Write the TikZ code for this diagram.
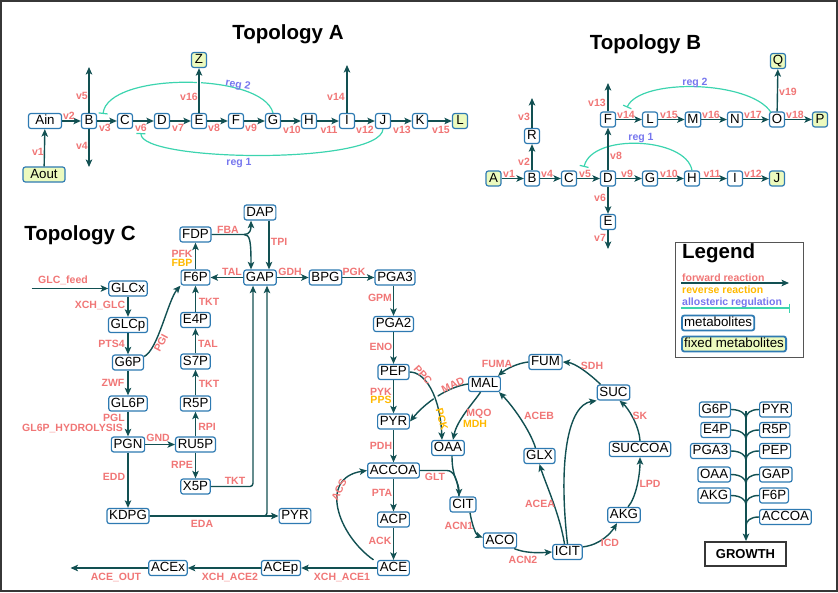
\documentclass[tikz,border=0pt]{standalone}
\usepackage{fontspec}
\setmainfont{Liberation Sans}
\usetikzlibrary{arrows.meta,calc}
\definecolor{ln}{RGB}{18,80,82}
\definecolor{nb}{RGB}{46,122,178}
\definecolor{fx}{RGB}{236,250,190}
\definecolor{rl}{RGB}{240,118,118}
\definecolor{ol}{RGB}{255,185,0}
\definecolor{pl}{RGB}{118,118,238}
\definecolor{rg}{RGB}{60,212,175}
\definecolor{fr}{RGB}{55,55,55}
\begin{document}
\begin{tikzpicture}[x=1pt,y=-1pt,
  met/.style={draw=nb,line width=1.2pt,rounded corners=2.5pt,fill=white,
    font=\fontsize{13.3}{14}\selectfont,inner xsep=2.2pt,inner ysep=1.3pt,
    text height=9.8pt,text depth=2.7pt,minimum width=15pt},
  fixm/.style={met,fill=fx},
  rx/.style={draw=ln,line width=1.4pt,-{Stealth[length=7.5pt,width=6.5pt,inset=1.8pt]}},
  rxn/.style={draw=ln,line width=1.4pt},
  reg/.style={draw=rg,line width=1.2pt,-{Bar[width=9pt]}},
  wgap/.style={draw=white,line width=4.5pt},
  lb/.style={text=rl,font=\bfseries\fontsize{10.5}{11}\selectfont,inner sep=0pt},
  lo/.style={lb,text=ol},
  lp/.style={lb,text=pl},
  ttl/.style={font=\bfseries\fontsize{20.5}{22}\selectfont,inner sep=0pt}
]
\useasboundingbox (0,0) rectangle (838,592);
\draw[fr,line width=2pt] (1,1) rectangle (837,591);

% ================= Topology A
\node[ttl] (tA) at (288,34.5) {Topology A};
\node[met,minimum width=33pt] (Ain) at (45,121) {Ain};
\node[fixm,minimum width=42pt] (Aout) at (44,174.5) {Aout};
\foreach \n/\x/\t in {aB/89/B,aC/125/C,aD/162/D,aE/199/E,aF/236/F,aG/273/G,aH/309/H,aI/347/I,aJ/383/J,aK/420/K}
  \node[met] (\n) at (\x,121) {\t};
\node[fixm] (aL) at (460,121) {L};
\node[fixm] (aZ) at (199,60) {Z};
\coordinate (aBu) at (89,67);
\coordinate (aBd) at (89,167);
\coordinate (aIu) at (347,65);

\draw[reg] (aG.north) .. controls (262,72) and (108,72) .. (103,114);
\draw[reg] (aJ.south) .. controls (380,165) and (140,162) .. (141,133);
\draw[wgap,shorten <=9pt,shorten >=3pt] (aE) -- (aZ);
\draw[rx] (aE) -- (aZ);
\draw[rx] (Aout) -- (Ain);
\foreach \s/\t in {Ain/aB,aB/aC,aC/aD,aD/aE,aE/aF,aF/aG,aG/aH,aH/aI,aI/aJ,aJ/aK,aK/aL}
  \draw[rx] (\s) -- (\t);
\draw[rx] (aB) -- (aBu);
\draw[rx] (aB) -- (aBd);
\draw[rx] (aI) -- (aIu);

\foreach \n/\x/\y/\t in {la1/38/152/v1,la2/69/116/v2,la3/105/128/v3,la4/82/146/v4,la5/82/96/v5,
  la6/141/128/v6,la7/178/128/v7,la8/214/128/v8,la9/251/128/v9,la10/292/130/v10,la11/329/130/v11,
  la12/365/130/v12,la13/402/130/v13,la15/441/130/v15,la14/336/97/v14,la16/189/97/v16}
  \node[lb] (\n) at (\x,\y) {\t};
\node[lp,rotate=-10] (lar2) at (238,85) {reg 2};
\node[lp] (lar1) at (239,163) {reg 1};

% ================= Topology B
\node[ttl] (tB) at (645.5,44) {Topology B};
\node[fixm] (bA) at (493.5,178.5) {A};
\foreach \n/\x/\t in {bB/532/B,bC/569/C,bD/608/D,bG/650/G,bH/692/H,bI/735/I}
  \node[met] (\n) at (\x,178.5) {\t};
\node[fixm] (bJ) at (777,178.5) {J};
\node[met] (bR) at (532,136) {R};
\node[met] (bE) at (608,222) {E};
\foreach \n/\x/\t in {bF/608/F,bL/650/L,bM/693/M,bN/735/N,bO/777/O}
  \node[met] (\n) at (\x,119.5) {\t};
\node[fixm] (bP) at (820,119.5) {P};
\node[fixm] (bQ) at (778,61) {Q};
\coordinate (bRu) at (532,98);
\coordinate (bFu) at (608,83);
\coordinate (bEd) at (608,249);

\draw[reg] (bH.north) .. controls (686,137) and (592,133) .. (584,167);
\draw[reg] ([xshift=-6pt,yshift=-1pt]bO.north) .. controls (750,80) and (640,78) .. (627,107.5);
\foreach \s/\t in {bA/bB,bB/bC,bC/bD,bD/bG,bG/bH,bH/bI,bI/bJ,bB/bR,bD/bE,bD/bF,bF/bL,bL/bM,bM/bN,bN/bO,bO/bP,bO/bQ}
  \draw[rx] (\s) -- (\t);
\draw[rx] (bR) -- (bRu);
\draw[rx] (bF) -- (bFu);
\draw[rx] (bE) -- (bEd);

\foreach \n/\x/\y/\t in {lb1/509/174/v1,lb2/524/162/v2,lb3/524/117/v3,lb4/547/174/v4,lb5/585/174/v5,
  lb6/600/198/v6,lb7/600/238/v7,lb8/616/156/v8,lb9/627/174/v9,lb10/669/174/v10,lb11/712/174/v11,
  lb12/753/174/v12,lb13/597/103/v13,lb14/626/115/v14,lb15/669/115/v15,lb16/711/115/v16,
  lb17/753/115/v17,lb18/795/115/v18,lb19/788/92/v19}
  \node[lb] (\n) at (\x,\y) {\t};
\node[lp] (lbr2) at (695,83) {reg 2};
\node[lp] (lbr1) at (641,138) {reg 1};

% ================= Topology C
\node[ttl] (tC) at (80,235) {Topology C};
\node[met] (GLCx) at (128,288.5) {GLCx};
\node[met] (GLCp) at (128,325) {GLCp};
\node[met] (G6P) at (128,362.5) {G6P};
\node[met] (GL6P) at (128,403.5) {GL6P};
\node[met] (PGN) at (128,444.5) {PGN};
\node[met] (KDPG) at (128,516) {KDPG};
\node[met] (RU5P) at (195.5,444.5) {RU5P};
\node[met] (X5P) at (195.5,486.5) {X5P};
\node[met] (R5P) at (195.5,403.5) {R5P};
\node[met] (S7P) at (195.5,361.5) {S7P};
\node[met] (E4P) at (195.5,320) {E4P};
\node[met] (F6P) at (195.5,277.5) {F6P};
\node[met] (FDP) at (195.5,234.5) {FDP};
\node[met] (DAP) at (260,212.5) {DAP};
\node[met] (GAP) at (260,277.5) {GAP};
\node[met] (BPG) at (325.5,277.5) {BPG};
\node[met] (PGA3) at (395,277.5) {PGA3};
\node[met] (PGA2) at (393.5,324) {PGA2};
\node[met] (PEP) at (393.5,372) {PEP};
\node[met] (PYR) at (393.5,421.5) {PYR};
\node[met] (ACCOA) at (393.5,470.5) {ACCOA};
\node[met] (ACP) at (393.5,519.5) {ACP};
\node[met] (ACE) at (393.5,568) {ACE};
\node[met] (ACEp) at (281,568) {ACEp};
\node[met] (ACEx) at (168,568) {ACEx};
\node[met] (PYRb) at (295,516) {PYR};
\node[met] (OAA) at (448,448) {OAA};
\node[met] (MAL) at (484.5,384) {MAL};
\node[met] (FUM) at (545.5,362) {FUM};
\node[met] (SUC) at (613.5,392.5) {SUC};
\node[met] (SUCCOA) at (640,449) {SUCCOA};
\node[met] (AKG) at (624,515) {AKG};
\node[met] (ICIT) at (567.5,552) {ICIT};
\node[met] (ACO) at (500,540.5) {ACO};
\node[met] (CIT) at (463,504.5) {CIT};
\node[met] (GLX) at (539.5,456) {GLX};
\coordinate (glcin) at (31.5,288.5);
\coordinate (aceout) at (70.5,568);
\coordinate (fj) at (244,234.5);
\coordinate (gj) at (447,470.5);

\draw[rx] (glcin) -- (GLCx);
\foreach \s/\t in {GLCx/GLCp,GLCp/G6P,G6P/GL6P,GL6P/PGN,PGN/KDPG,PGN/RU5P,RU5P/R5P,RU5P/X5P,
  R5P/S7P,S7P/E4P,E4P/F6P,F6P/FDP,GAP/F6P,GAP/BPG,BPG/PGA3,PGA2/PEP,PEP/PYR,PYR/ACCOA,
  ACCOA/ACP,ACP/ACE,ACE/ACEp,ACEp/ACEx,KDPG/PYRb}
  \draw[rx] (\s) -- (\t);
\draw[rx] (ACEx) -- (aceout);
\draw[rx] (PGA3.south -| PGA2.north) -- (PGA2.north);
\draw[rx] (FDP.east) -- (fj) .. controls (250,234.5) and (251,230) .. ([xshift=-9pt]DAP.south);
\draw[rx] (fj) .. controls (250,234.5) and (251,241) .. ([xshift=-9pt]GAP.north);
\draw[rx] ([xshift=9pt]DAP.south) -- ([xshift=9pt]GAP.north);
\draw[rx,rounded corners=3pt] (X5P.east) -| ([xshift=-7pt]GAP.south);
\draw[rx,rounded corners=3pt] (KDPG.east) -| ([xshift=7pt]GAP.south);
\draw[rx] ([yshift=6pt]G6P.east) .. controls (158,350) and (168,300) .. (F6P.south west);

\draw[rx] (MAL.west) .. controls (447,387) and (425,403) .. (PYR.east);
\draw[wgap,shorten <=8pt,shorten >=10pt] (PEP.east) .. controls (425,372) and (440,395) .. ([xshift=-6pt]OAA.north);
\draw[rx] (PEP.east) .. controls (425,372) and (440,395) .. ([xshift=-6pt]OAA.north);
\draw[rx] ([xshift=-4pt]MAL.south) .. controls (474,402) and (457,420) .. ([xshift=5pt]OAA.north);
\draw[rx] (FUM.west) .. controls (518,363) and (506,369) .. ([xshift=-3pt]MAL.north east);
\draw[rx] ([xshift=-13pt]SUC.north) .. controls (590,374) and (575,363) .. (FUM.east);
\draw[rx] (SUCCOA.north) .. controls (639,425) and (628,408) .. ([xshift=6pt]SUC.south);
\draw[rx] ([xshift=4pt]AKG.north) .. controls (636,498) and (640,475) .. (SUCCOA.south);
\draw[rx] ([yshift=-3pt]ICIT.north east) .. controls (600,545) and (611,533) .. ([xshift=-7pt]AKG.south);
\draw[rx] (ICIT.north) .. controls (558,460) and (568,405) .. (SUC.south west);
\draw[rx] ([xshift=-3pt]ICIT.north) .. controls (560,515) and (545,482) .. (GLX.south);
\draw[rx] ([xshift=-4pt]GLX.north) .. controls (530,430) and (512,405) .. ([xshift=-2pt]MAL.south east);
\draw[rx] ([xshift=7pt]CIT.south) .. controls (472,525) and (476,535) .. ([yshift=3pt]ACO.west);
\draw[rx] ([xshift=-3pt]ACO.south east) .. controls (525,553) and (537,553) .. (ICIT.west);
\draw[rxn] (ACCOA.east) -- (gj) .. controls (454,470.5) and (458,480) .. ([xshift=-4pt]CIT.north);
\draw[rx] ([xshift=4pt]OAA.south) .. controls (452,478) and (459,482) .. ([xshift=-4pt]CIT.north);
\draw[rx] ([xshift=-20pt]ACE.north) .. controls (338,535) and (318,478) .. (ACCOA.west);

\foreach \n/\x/\y/\t in {lc1/63/280/GLC\_feed,lc2/100/305/XCH\_GLC,lc3/111.5/344/PTS4,lc4/113/383/ZWF,
  lc5/114/418/PGL,lc6/72.5/428/GL6P\_HYDROLYSIS,lc7/114/477/EDD,lc8/158/438/GND,lc9/207/427/RPI,
  lc10/182/465/RPE,lc11/235/481/TKT,lc12/202/524/EDA,lc13/342/577/XCH\_ACE1,lc14/230/577/XCH\_ACE2,
  lc15/116/577/ACE\_OUT,lc16/381/446/PDH,lc17/382/493/PTA,lc18/380/541/ACK,lc19/435/477/GLT,
  lc20/459/526/ACN1,lc21/523/560/ACN2,lc22/610/543/ICD,lc23/650/484/LPD,lc24/640/416/SK,
  lc25/540/504/ACEA,lc26/539/416/ACEB,lc27/592/366/SDH,lc28/497/364/FUMA,lc29/479/414/MQO,
  lc30/381/392/PYK,lc31/381/347/ENO,lc32/380/298/GPM,lc33/290/272/GDH,lc34/354/272/PGK,
  lc35/279/242/TPI,lc36/228/230/FBA,lc37/232/272/TAL,lc38/182/254/PFK,lc39/209/302/TKT,
  lc40/208/344/TAL,lc41/209/384/TKT}
  \node[lb] (\n) at (\x,\y) {\t};
\node[lo] (lc42) at (475,424) {MDH};
\node[lo] (lc43) at (381,400) {PPS};
\node[lo] (lc44) at (182,263) {FBP};
\node[lo,rotate=-75] (lc45) at (442,419) {PCK};
\node[lb,rotate=25] (lc46) at (453,385) {MAD};
\node[lb,rotate=-48] (lc47) at (423,375) {PPC};
\node[lb,rotate=65] (lc48) at (339,490) {ACS};
\node[lb,rotate=62] (lc49) at (161,343) {PGI};

% ================= Legend
\node[draw=fr!85,line width=1.2pt,minimum width=128pt,minimum height=115pt,inner sep=0pt,anchor=north west] (leg) at (675,242) {};
\node[ttl,anchor=west] (legT) at (682,253) {Legend};
\coordinate (lfa) at (681,283);
\coordinate (lfb) at (789,283);
\coordinate (lra) at (681,308);
\coordinate (lrb) at (790,308);
\draw[rx] (lfa) -- (lfb);
\draw[reg] (lra) -- (lrb);
\node[lb,anchor=west] (legF) at (682,278) {forward reaction};
\node[lo,anchor=west] (legR) at (682,290) {reverse reaction};
\node[lp,anchor=west] (legA) at (682,303) {allosteric regulation};
\node[met,anchor=west,line width=1.8pt] (legM) at (681,323) {metabolites};
\node[fixm,anchor=west,line width=1.8pt] (legX) at (681,344) {fixed metabolites};

% ================= Growth
\node[met,anchor=east] (gG6P) at (731,409.5) {G6P};
\node[met,anchor=east] (gE4P) at (731,430) {E4P};
\node[met,anchor=east] (gPGA3) at (731,451) {PGA3};
\node[met,anchor=east] (gOAA) at (731,474.5) {OAA};
\node[met,anchor=east] (gAKG) at (731,495.5) {AKG};
\node[met,anchor=west] (gPYR) at (759,409.5) {PYR};
\node[met,anchor=west] (gR5P) at (759,430) {R5P};
\node[met,anchor=west] (gPEP) at (759,451) {PEP};
\node[met,anchor=west] (gGAP) at (759,474.5) {GAP};
\node[met,anchor=west] (gF6P) at (759,495.5) {F6P};
\node[met,anchor=west] (gACCOA) at (759,517) {ACCOA};
\node[draw=fr,line width=1.8pt,font=\bfseries\fontsize{13}{14}\selectfont,minimum width=81pt,minimum height=24pt,inner sep=0pt] (GROW) at (745.5,554) {GROWTH};
\coordinate (gtop) at (746,411);
\draw[rx] (gtop) -- (GROW.north -| gtop);
\foreach \n in {gG6P,gE4P,gPGA3,gOAA,gAKG}
  \draw[rxn] (\n.east) .. controls +(9,0) and +(0,-5) .. ($(\n.east -| gtop)+(0,9)$);
\foreach \n in {gPYR,gR5P,gPEP,gGAP,gF6P,gACCOA}
  \draw[rxn] (\n.west) .. controls +(-9,0) and +(0,-5) .. ($(\n.west -| gtop)+(0,9)$);
\end{tikzpicture}
\end{document}
